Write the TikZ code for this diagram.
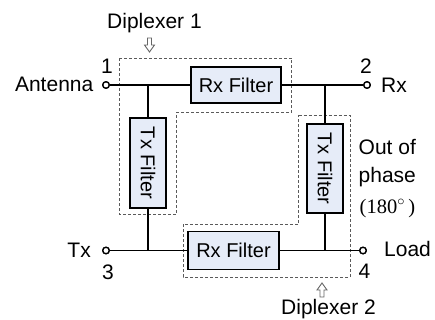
\documentclass[tikz,border=0pt]{standalone}
\usepackage{fontspec}
\setmainfont{Liberation Sans}
\newfontfamily\serifnum{Liberation Serif}
\definecolor{boxfill}{RGB}{230,236,248}
\definecolor{dashgray}{RGB}{90,90,90}
\begin{document}
\begin{tikzpicture}[x=1pt,y=-1pt,
  filt/.style={draw, line width=1.8pt, fill=boxfill, inner sep=0pt,
    font=\fontsize{20}{24}\selectfont},
  wire/.style={line width=1.8pt},
  port/.style={circle, draw, line width=1.3pt, fill=white, minimum size=6.5pt, inner sep=0pt},
  lbl/.style={inner sep=0pt, font=\fontsize{21}{25}\selectfont},
  dashbox/.style={draw=dashgray, line width=0.8pt, dash pattern=on 3pt off 2pt},
  harrow/.style={draw=gray!80!black, line width=0.9pt, fill=white, line join=miter}
]
\useasboundingbox (0,0) rectangle (435,320);

% diplexer outlines
\draw[dashbox] (119,58) -- (291.5,58) -- (291.5,112.5) -- (176,112.5) -- (176,214.5) -- (119,214.5) -- cycle;
\draw[dashbox] (298.5,115.5) -- (350,115.5) -- (350,277) -- (183,277) -- (183,224) -- (298.5,224) -- cycle;

% filters
\node[filt, minimum width=90pt, minimum height=36pt] (rx1) at (236,85) {Rx Filter};
\node[filt, rotate=-90, minimum width=90pt, minimum height=36pt] (tx1) at (148,163) {Tx Filter};
\node[filt, rotate=-90, minimum width=89pt, minimum height=36pt] (tx2) at (325,168.5) {Tx Filter};
\node[filt, minimum width=91pt, minimum height=38pt] (rx2) at (233.5,250.5) {Rx Filter};

% ports and junctions
\node[port] (p1) at (106,85) {};
\node[port] (p2) at (367,85) {};
\node[port] (p3) at (106,250.5) {};
\node[port] (p4) at (363,250.5) {};
\coordinate (j1) at (148,85);
\coordinate (j2) at (325,85);
\coordinate (j3) at (148,250.5);
\coordinate (j4) at (325,250.5);

% wires
\draw[wire] (p1.east) -- (rx1.west);
\draw[wire] (rx1.east) -- (p2.west);
\draw[wire] (p3.east) -- (rx2.west);
\draw[wire] (rx2.east) -- (p4.west);
\draw[wire] (j1) -- (tx1.west);
\draw[wire] (tx1.east) -- (j3);
\draw[wire] (j2) -- (tx2.west);
\draw[wire] (tx2.east) -- (j4);
\node[port] at (p1) {};
\node[port] at (p2) {};
\node[port] at (p3) {};
\node[port] at (p4) {};

% labels
\node[lbl, anchor=base east] (lant) at (93.5,92) {Antenna};
\node[lbl, anchor=base] (l1) at (107,73.3) {1};
\node[lbl, anchor=base] (l2) at (366,73.3) {2};
\node[lbl, anchor=base west] (lrx) at (381,93) {Rx};
\node[lbl, anchor=base east] (ltx) at (91,257.7) {Tx};
\node[lbl, anchor=base] (l3) at (108,279.3) {3};
\node[lbl, anchor=base west] (lload) at (384,256) {Load};
\node[lbl, anchor=base] (l4) at (364.5,278.3) {4};
\node[lbl, anchor=base] (ld1) at (154.5,29) {Diplexer 1};
\node[lbl, anchor=base] (ld2) at (328.5,314) {Diplexer 2};
\node[lbl, anchor=base west] (lout) at (358.5,154) {Out of};
\node[lbl, anchor=base west] (lph) at (358.5,182.5) {phase};
\node[inner sep=0pt, anchor=base west, font=\fontsize{20.5}{24}\selectfont] (ldeg) at (359.5,213) {\serifnum (180$^{\circ}$\,)};

% hollow arrows
\draw[harrow] (147.5,38) -- (151.5,38) -- (151.5,45) -- (154.5,45) -- (149.5,52) -- (144.5,45) -- (147.5,45) -- cycle;
\draw[harrow] (320,297) -- (324,297) -- (324,290) -- (327,290) -- (322,283) -- (317,290) -- (320,290) -- cycle;
\end{tikzpicture}
\end{document}
